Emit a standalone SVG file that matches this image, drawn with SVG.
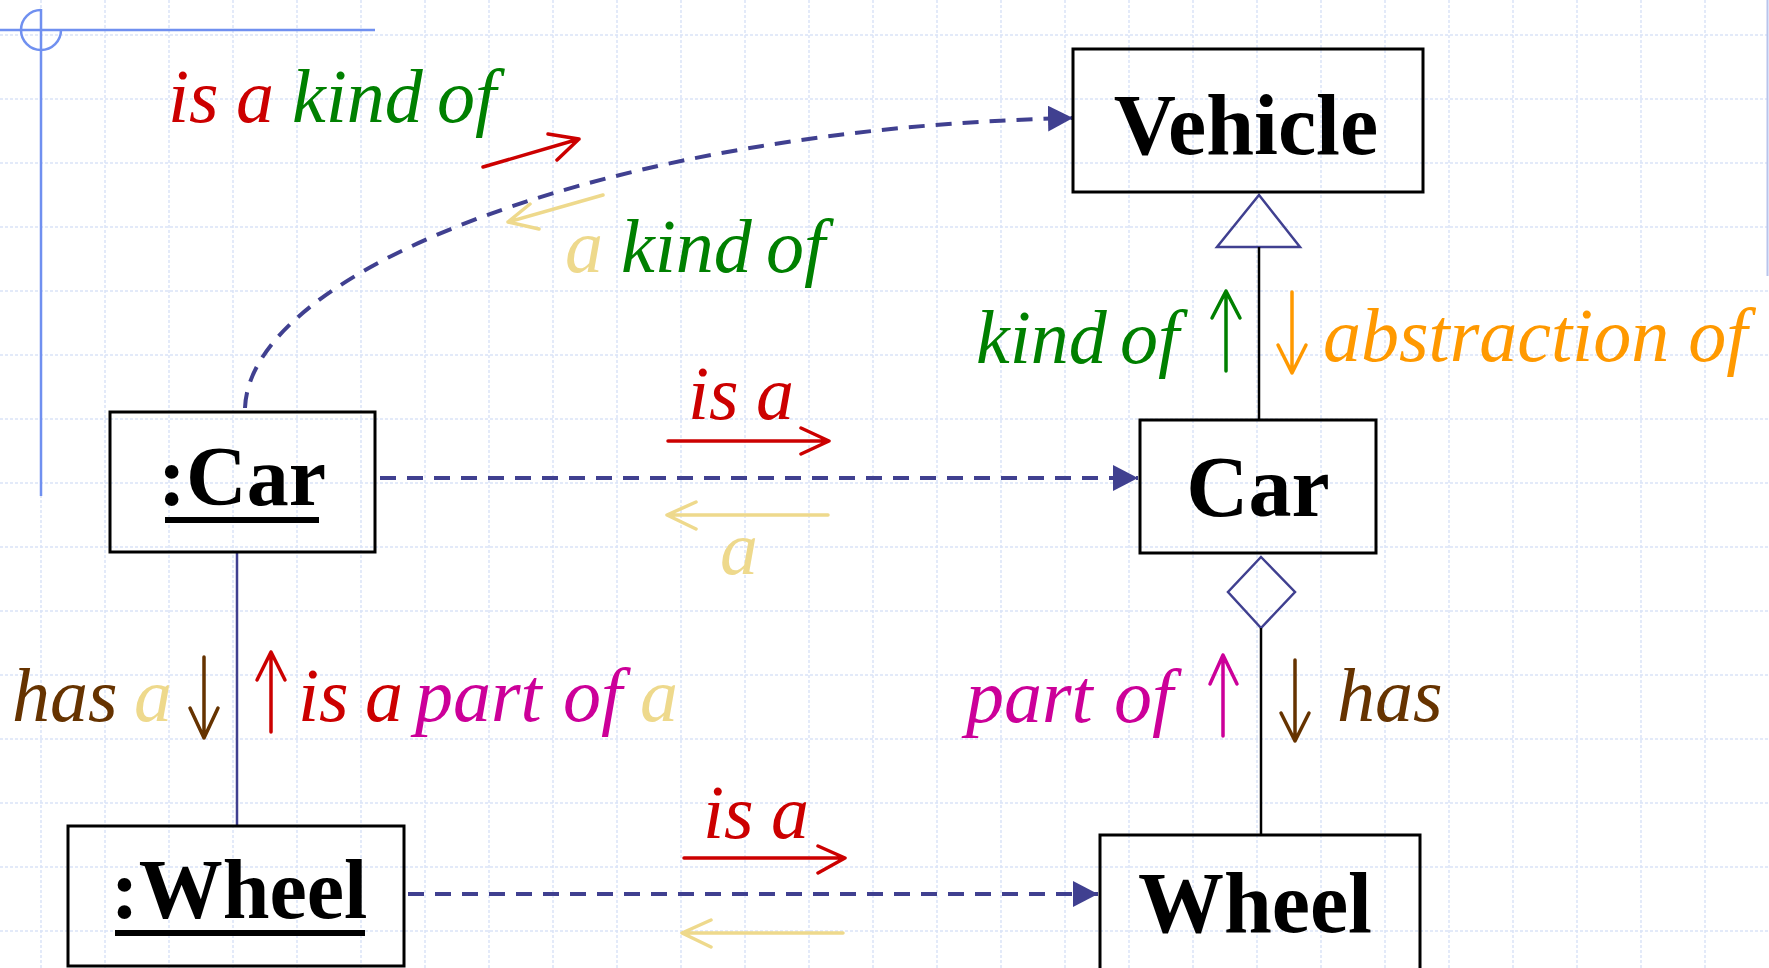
<svg xmlns="http://www.w3.org/2000/svg" width="1769" height="968" viewBox="0 0 1769 968">
<style>
.grid line{stroke:#dae3f8;stroke-width:1.5;stroke-dasharray:3 2}
.box{fill:none;stroke:#000;stroke-width:3}
.bt{font-family:"Liberation Serif","Times New Roman",serif;font-weight:bold;font-size:86px;fill:#000;text-anchor:middle}
.lb{font-family:"Liberation Serif","Times New Roman",serif;font-style:italic;font-size:76px}
.dash{fill:none;stroke:#404090;stroke-width:4;stroke-dasharray:16 11}
.red{fill:#cc0000;stroke:#cc0000}
.grn{fill:#008000;stroke:#008000}
.yel{fill:#eed98c;stroke:#eed98c}
.org{fill:#ff9900;stroke:#ff9900}
.brn{fill:#663300;stroke:#663300}
.mag{fill:#cc0099;stroke:#cc0099}
.ar{fill:none !important;stroke-width:3.5;stroke-linecap:round;stroke-linejoin:round}
text .red,text .grn,text .yel,text .org,text .brn,text .mag,text.lb{stroke:none}
</style>
<defs>
<marker id="tip" viewBox="0 0 25 26" refX="25" refY="13" markerWidth="25" markerHeight="26" markerUnits="userSpaceOnUse" orient="auto">
<path d="M0,0 L25,13 L0,26 Z" fill="#404090"/>
</marker>
</defs>
<rect width="1769" height="968" fill="#fff"/>
<g class="grid">
<line x1="41" y1="0" x2="41" y2="968"/><line x1="105" y1="0" x2="105" y2="968"/><line x1="169" y1="0" x2="169" y2="968"/><line x1="233" y1="0" x2="233" y2="968"/><line x1="297" y1="0" x2="297" y2="968"/><line x1="361" y1="0" x2="361" y2="968"/><line x1="425" y1="0" x2="425" y2="968"/><line x1="489" y1="0" x2="489" y2="968"/><line x1="553" y1="0" x2="553" y2="968"/><line x1="617" y1="0" x2="617" y2="968"/><line x1="681" y1="0" x2="681" y2="968"/><line x1="745" y1="0" x2="745" y2="968"/><line x1="809" y1="0" x2="809" y2="968"/><line x1="873" y1="0" x2="873" y2="968"/><line x1="937" y1="0" x2="937" y2="968"/><line x1="1001" y1="0" x2="1001" y2="968"/><line x1="1065" y1="0" x2="1065" y2="968"/><line x1="1129" y1="0" x2="1129" y2="968"/><line x1="1193" y1="0" x2="1193" y2="968"/><line x1="1257" y1="0" x2="1257" y2="968"/><line x1="1321" y1="0" x2="1321" y2="968"/><line x1="1385" y1="0" x2="1385" y2="968"/><line x1="1449" y1="0" x2="1449" y2="968"/><line x1="1513" y1="0" x2="1513" y2="968"/><line x1="1577" y1="0" x2="1577" y2="968"/><line x1="1641" y1="0" x2="1641" y2="968"/><line x1="1705" y1="0" x2="1705" y2="968"/>
<line x1="0" y1="35" x2="1769" y2="35"/><line x1="0" y1="99" x2="1769" y2="99"/><line x1="0" y1="163" x2="1769" y2="163"/><line x1="0" y1="227" x2="1769" y2="227"/><line x1="0" y1="291" x2="1769" y2="291"/><line x1="0" y1="355" x2="1769" y2="355"/><line x1="0" y1="419" x2="1769" y2="419"/><line x1="0" y1="483" x2="1769" y2="483"/><line x1="0" y1="547" x2="1769" y2="547"/><line x1="0" y1="611" x2="1769" y2="611"/><line x1="0" y1="675" x2="1769" y2="675"/><line x1="0" y1="739" x2="1769" y2="739"/><line x1="0" y1="803" x2="1769" y2="803"/><line x1="0" y1="867" x2="1769" y2="867"/><line x1="0" y1="931" x2="1769" y2="931"/>
</g>
<g id="decoration" fill="none" stroke="#7090f0" stroke-width="2.5">
<line x1="0" y1="30" x2="375" y2="30"/>
<line x1="41" y1="9" x2="41" y2="496"/>
<path d="M41,10 A20,20 0 1 0 61,30"/>
<line x1="1767.5" y1="0" x2="1767.5" y2="276" stroke="#b8c4ec" stroke-width="2"/>
</g>
<g id="connectors">
<path class="dash" d="M245,408 C250,270 610,128 1073,118" marker-end="url(#tip)"/>
<line class="dash" x1="380" y1="478" x2="1138" y2="478" marker-end="url(#tip)"/>
<line class="dash" x1="408" y1="894" x2="1098" y2="894" marker-end="url(#tip)"/>
<line x1="237" y1="552" x2="237" y2="826" stroke="#404090" stroke-width="2.5"/>
<polygon points="1259,195 1300,247 1217,247" fill="none" stroke="#404090" stroke-width="2.5"/>
<line x1="1259" y1="247" x2="1259" y2="420" stroke="#000" stroke-width="2.5"/>
<polygon points="1261,557 1295,592 1261,628 1228,592" fill="none" stroke="#404090" stroke-width="2.5"/>
<line x1="1261" y1="628" x2="1261" y2="835" stroke="#000" stroke-width="2.5"/>
</g>
<g id="vehicle">
<rect class="box" x="1073" y="49" width="350" height="143"/>
<text class="bt" x="1246" y="154">Vehicle</text>
</g>
<g id="car">
<rect class="box" x="1140" y="420" width="236" height="133"/>
<text class="bt" x="1258" y="516">Car</text>
</g>
<g id="wheel">
<rect class="box" x="1100" y="835" width="320" height="150"/>
<text class="bt" x="1255" y="932">Wheel</text>
</g>
<g id="car-object">
<rect class="box" x="110" y="412" width="265" height="140"/>
<text class="bt" x="242" y="505" style="font-size:84px">:Car</text>
<rect x="165" y="517" width="154" height="6" fill="#000"/>
</g>
<g id="wheel-object">
<rect class="box" x="68" y="826" width="336" height="140"/>
<text class="bt" x="239" y="918" style="font-size:84px">:Wheel</text>
<rect x="115" y="930" width="250" height="6" fill="#000"/>
</g>
<g id="labels">
<text class="lb" y="122"><tspan class="red" x="168">is</tspan><tspan class="red" x="236">a</tspan><tspan class="grn" x="292">kind</tspan><tspan class="grn" x="437">of</tspan></text>
<path class="ar red" d="M483,167 L579,139 M548,134 L579,139 L557,160"/>
<path class="ar yel" d="M603,195 L508,222 M530,204 L508,222 L539,229"/>
<text class="lb" y="272"><tspan class="yel" x="565">a</tspan><tspan class="grn" x="621">kind</tspan><tspan class="grn" x="766">of</tspan></text>
<text class="lb" y="419"><tspan class="red" x="688">is</tspan><tspan class="red" x="756">a</tspan></text>
<path class="ar red" d="M668,441 L829,441 M801,428 L829,441 L801,454"/>
<path class="ar yel" d="M828,515 L667,515 M696,502 L667,515 L696,529"/>
<text class="lb yel" x="720" y="574">a</text>
<text class="lb" y="363"><tspan class="grn" x="976">kind</tspan><tspan class="grn" x="1120">of</tspan></text>
<path class="ar grn" d="M1226,371 L1226,291 M1212,318 L1226,291 L1240,318"/>
<path class="ar org" d="M1292,292 L1292,373 M1278,345 L1292,373 L1306,345"/>
<text class="lb org" x="1323" y="361">abstraction of</text>
<text class="lb" y="721"><tspan class="brn" x="12">has</tspan><tspan class="yel" x="134">a</tspan></text>
<path class="ar brn" d="M204,657 L204,738 M190,708 L204,738 L218,708"/>
<path class="ar red" d="M271,732 L271,652 M257,680 L271,652 L285,680"/>
<text class="lb" y="721"><tspan class="red" x="298">is</tspan><tspan class="red" x="365">a</tspan><tspan class="mag" x="415">part</tspan><tspan class="mag" x="563">of</tspan><tspan class="yel" x="640">a</tspan></text>
<text class="lb" y="722"><tspan class="mag" x="966">part</tspan><tspan class="mag" x="1114">of</tspan></text>
<path class="ar mag" d="M1223,736 L1223,655 M1210,684 L1223,655 L1237,684"/>
<path class="ar brn" d="M1295,660 L1295,741 M1281,713 L1295,741 L1309,713"/>
<text class="lb brn" x="1337" y="721">has</text>
<text class="lb" y="838"><tspan class="red" x="703">is</tspan><tspan class="red" x="771">a</tspan></text>
<path class="ar red" d="M684,858 L845,858 M818,846 L845,858 L818,873"/>
<path class="ar yel" d="M843,933 L682,933 M711,920 L682,933 L711,947"/>
</g>
</svg>
